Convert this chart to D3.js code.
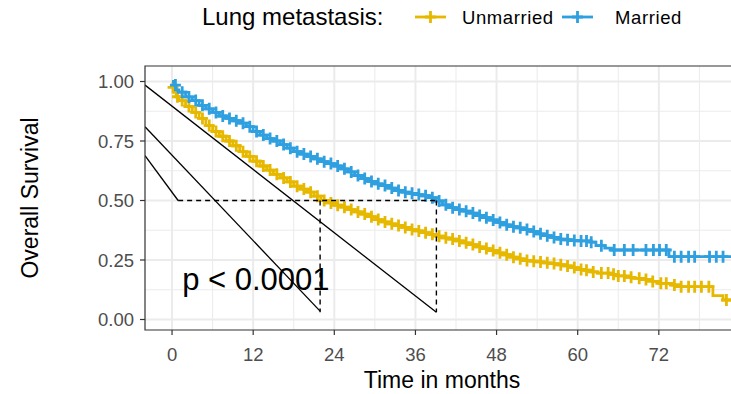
<!DOCTYPE html>
<html><head><meta charset="utf-8">
<script src="https://cdn.jsdelivr.net/npm/d3@7"></script>
<style>html,body{margin:0;padding:0;background:#fff}svg{display:block}text{font-family:"Liberation Sans",Arial,sans-serif}</style>
</head><body>
<svg id="c" width="731" height="394"></svg>
<script>
// ---------- data ----------
const groups = ["Unmarried", "Married"];
const groupColors = ["#E7B800", "#2E9FDF"];
const legendTitle = "Lung metastasis:";
const xTicks = [0, 12, 24, 36, 48, 60, 72];
const yTicks = [0, 0.25, 0.5, 0.75, 1];
const yTickLabels = ["0.00", "0.25", "0.50", "0.75", "1.00"];

const unmarriedTime = [0,0.3,0.6,1,2,3,4,5,6,7,8,9,10,11,12,13,14,15,16,17,18,19,20,21,22,23,24,25,26,27,28,29,30,31,32,33,34,35,36,37,38,39,40,41,42,43,44,45,46,47,48,49,50,51,52,53,54,55,56,57,58,59,60,61,62,63,65,66,67,68,70,71,72,74,75,80,81.5];
const unmarriedSurv = [0.975,0.955,0.936,0.92,0.895,0.87,0.845,0.815,0.79,0.77,0.75,0.73,0.705,0.685,0.665,0.645,0.628,0.61,0.595,0.578,0.56,0.548,0.535,0.518,0.5,0.49,0.48,0.472,0.462,0.452,0.443,0.432,0.42,0.41,0.402,0.395,0.387,0.378,0.372,0.365,0.358,0.35,0.343,0.338,0.33,0.322,0.315,0.305,0.298,0.29,0.28,0.272,0.262,0.255,0.248,0.245,0.242,0.238,0.235,0.23,0.225,0.218,0.21,0.207,0.2,0.195,0.19,0.183,0.177,0.173,0.168,0.16,0.152,0.145,0.138,0.1,0.082];
const unmarriedCensor = [0.15,0.8,1.5,2.5,3.5,4.5,5.5,6.5,7.5,8.5,9.5,10.5,11.5,12.5,13.5,14.5,15.5,16.5,17.5,18.5,19.5,20.5,21.5,22.5,23.5,24.5,25.5,26.5,27.5,28.5,29.5,30.5,31.5,32.5,33.5,34.5,35.5,36.5,37.5,38.5,39.5,40.5,41.5,42.5,43.5,44.5,45.5,46.5,47.5,48.5,49.5,50.5,51.5,52.5,53.5,54.5,55.5,56.5,57.5,58.5,59.5,60.5,61.3,62.3,63.5,64.5,65.3,66,66.9,67.9,69.1,70.1,71.1,72.3,73.1,74.3,75.3,76.4,77.3,78.3,79.4,82];
const unmarriedEnd = 84;

const marriedTime = [0,0.3,0.6,1,2,3,4,5,6,7,8,9,10,11,12,13,14,15,16,17,18,19,20,21,22,23,24,25,26,27,28,29,30,31,32,33,34,35,36,37,38,39,40,41,42,43,44,45,46,47,48,49,50,51,52,53,54,55,56,57,58,59,60,62,62.7,64,65,73.5];
const marriedSurv = [1.0,0.985,0.965,0.955,0.935,0.92,0.9,0.885,0.87,0.855,0.845,0.835,0.825,0.81,0.79,0.775,0.76,0.75,0.735,0.72,0.705,0.695,0.685,0.675,0.663,0.655,0.645,0.633,0.62,0.605,0.592,0.58,0.57,0.563,0.552,0.542,0.535,0.53,0.525,0.52,0.512,0.498,0.482,0.47,0.462,0.455,0.447,0.437,0.428,0.418,0.408,0.398,0.39,0.385,0.378,0.37,0.36,0.352,0.345,0.338,0.335,0.332,0.33,0.325,0.31,0.3,0.292,0.264];
const marriedCensor = [0.5,1.5,2.5,3.5,4.5,5.5,6.5,7.5,8.5,9.5,10.5,11.5,12.5,13.5,14.5,15.5,16.5,17.5,18.5,19.5,20.5,21.5,22.5,23.5,24.5,25.5,26.5,27.5,28.5,29.5,30.5,31.5,32.5,33.5,34.5,35.5,36.5,37.5,38.5,39.5,40.5,41.5,42.5,43.5,44.5,45.5,46.5,47.5,48.5,49.5,50.5,51.5,52.5,53.5,54.5,55.5,56.5,57.5,58.5,59.5,60.5,61.3,62,63.5,65.4,66.9,68.2,70.1,71.2,72.1,73.1,74.3,75.3,76.4,77.3,79.5,80.5,81.5];
const marriedEnd = 84;

const medianTimes = [21.9, 39.1];
const medianSurv = 0.5;
const medianStart = 0.9;
const medianFloor = 0.03;
// stray diagonal segments present in the source image (data coords)
const diagX1 = [-4, -4, -4];
const diagY1 = [0.985, 0.81, 0.688];
const diagX2 = [39.1, 21.9, 0.9];
const diagY2 = [0.03, 0.035, 0.5];
const pvalText = "p < 0.0001";
const pvalPos = [1.5, 0.17];

// ---------- layout ----------
const svg = d3.select("#c");
const P = {left: 145, top: 66, bottom: 330, right: 770};
const x = d3.scaleLinear().domain([-4, 88]).range([P.left, 767]);
const y = d3.scaleLinear().domain([0, 1]).range([319.5, 81.5]);

svg.append("defs").append("clipPath").attr("id", "pc")
  .append("rect").attr("x", P.left).attr("y", P.top).attr("width", P.right - P.left).attr("height", P.bottom - P.top);

// grid
const g = svg.append("g");
const majorX = [0, 12, 24, 36, 48, 60, 72, 84];
const minorX = [6, 18, 30, 42, 54, 66, 78];
const minorY = [0.125, 0.375, 0.625, 0.875];
g.selectAll(".mx").data(minorX).join("line").attr("x1", d => x(d)).attr("x2", d => x(d))
  .attr("y1", P.top).attr("y2", P.bottom).attr("stroke", "#ebebeb").attr("stroke-width", 1);
g.selectAll(".my").data(minorY).join("line").attr("y1", d => y(d)).attr("y2", d => y(d))
  .attr("x1", P.left).attr("x2", P.right).attr("stroke", "#ebebeb").attr("stroke-width", 1);
g.selectAll(".Mx").data(majorX).join("line").attr("x1", d => x(d)).attr("x2", d => x(d))
  .attr("y1", P.top).attr("y2", P.bottom).attr("stroke", "#ebebeb").attr("stroke-width", 2);
g.selectAll(".My").data(yTicks).join("line").attr("y1", d => y(d)).attr("y2", d => y(d))
  .attr("x1", P.left).attr("x2", P.right).attr("stroke", "#ebebeb").attr("stroke-width", 2);

// plot content
const plot = svg.append("g").attr("clip-path", "url(#pc)");

function series(times, surv, end) {
  const pts = times.map((t, i) => [t, surv[i]]);
  pts.push([end, surv[surv.length - 1]]);
  return pts;
}
function survAt(times, surv, t) {
  let v = surv[0];
  for (let i = 0; i < times.length; i++) { if (times[i] <= t) v = surv[i]; else break; }
  return v;
}
const data = [
  {time: unmarriedTime, surv: unmarriedSurv, censor: unmarriedCensor, end: unmarriedEnd, color: groupColors[0]},
  {time: marriedTime, surv: marriedSurv, censor: marriedCensor, end: marriedEnd, color: groupColors[1]}
];
const line = d3.line().x(d => x(d[0])).y(d => y(d[1])).curve(d3.curveStepAfter);
const plus = (cx, cy, h) => `M${cx - h},${cy}H${cx + h}M${cx},${cy - h - 0.5}V${cy + h + 0.5}`;

data.forEach(s => {
  plot.append("path").attr("d", line(series(s.time, s.surv, s.end)))
    .attr("fill", "none").attr("stroke", s.color).attr("stroke-width", 2.8);
  plot.append("path").attr("d", s.censor.map(t => plus(x(t), y(survAt(s.time, s.surv, t)), 5.5)).join(""))
    .attr("fill", "none").attr("stroke", s.color).attr("stroke-width", 2.8);
});

// median lines
plot.append("line").attr("x1", x(medianStart)).attr("x2", x(d3.max(medianTimes)))
  .attr("y1", y(medianSurv)).attr("y2", y(medianSurv))
  .attr("stroke", "#000").attr("stroke-width", 1.4).attr("stroke-dasharray", "5,4");
plot.selectAll(".mv").data(medianTimes).join("line")
  .attr("x1", d => x(d)).attr("x2", d => x(d)).attr("y1", y(medianSurv)).attr("y2", y(medianFloor))
  .attr("stroke", "#000").attr("stroke-width", 1.4).attr("stroke-dasharray", "5,4");
plot.selectAll(".dg").data(diagX1).join("line")
  .attr("x1", (d, i) => x(diagX1[i])).attr("y1", (d, i) => y(diagY1[i]))
  .attr("x2", (d, i) => x(diagX2[i])).attr("y2", (d, i) => y(diagY2[i]))
  .attr("stroke", "#000").attr("stroke-width", 1.3);

// p value
svg.append("text").attr("x", x(pvalPos[0])).attr("y", y(pvalPos[1]) + 11)
  .attr("font-size", 31).attr("fill", "#000").text(pvalText);

// panel border (left, top, bottom)
svg.append("path").attr("d", `M${P.right},${P.top}H${P.left}V${P.bottom}H${P.right}`)
  .attr("fill", "none").attr("stroke", "#333").attr("stroke-width", 1.2);

// axes ticks and labels
svg.selectAll(".xt").data(xTicks).join("line").attr("x1", d => x(d)).attr("x2", d => x(d))
  .attr("y1", P.bottom).attr("y2", P.bottom + 5).attr("stroke", "#333").attr("stroke-width", 1.2);
svg.selectAll(".xl").data(xTicks).join("text").attr("x", d => x(d)).attr("y", 361)
  .attr("text-anchor", "middle").attr("font-size", 18.5).attr("fill", "#4d4d4d").text(d => d);
svg.selectAll(".yt").data(yTicks).join("line").attr("y1", d => y(d)).attr("y2", d => y(d))
  .attr("x1", P.left - 5).attr("x2", P.left).attr("stroke", "#333").attr("stroke-width", 1.2);
svg.selectAll(".yl").data(yTicks).join("text").attr("x", 134).attr("y", d => y(d) + 6.5)
  .attr("text-anchor", "end").attr("font-size", 18.5).attr("fill", "#4d4d4d").text((d, i) => yTickLabels[i]);

svg.append("text").attr("x", 442).attr("y", 388).attr("text-anchor", "middle")
  .attr("font-size", 23).attr("fill", "#000").text("Time in months");
svg.append("text").attr("transform", "translate(38,198) rotate(-90)").attr("text-anchor", "middle")
  .attr("font-size", 23).attr("fill", "#000").text("Overall Survival");

// legend
const lg = svg.append("g");
lg.append("text").attr("x", 202).attr("y", 25).attr("font-size", 24).attr("fill", "#000").text(legendTitle);
const keyX = [415, 562];
const labX = [462, 615];
groups.forEach((name, i) => {
  lg.append("line").attr("x1", keyX[i]).attr("x2", keyX[i] + 31).attr("y1", 17).attr("y2", 17)
    .attr("stroke", groupColors[i]).attr("stroke-width", 2.8);
  lg.append("path").attr("d", plus(keyX[i] + 15.5, 17, 5.5)).attr("stroke", groupColors[i]).attr("stroke-width", 2.8);
  lg.append("text").attr("x", labX[i]).attr("y", 23.5).attr("font-size", 18.5)
    .attr("letter-spacing", 0.6).attr("fill", "#000").text(name);
});
</script>
</body></html>
